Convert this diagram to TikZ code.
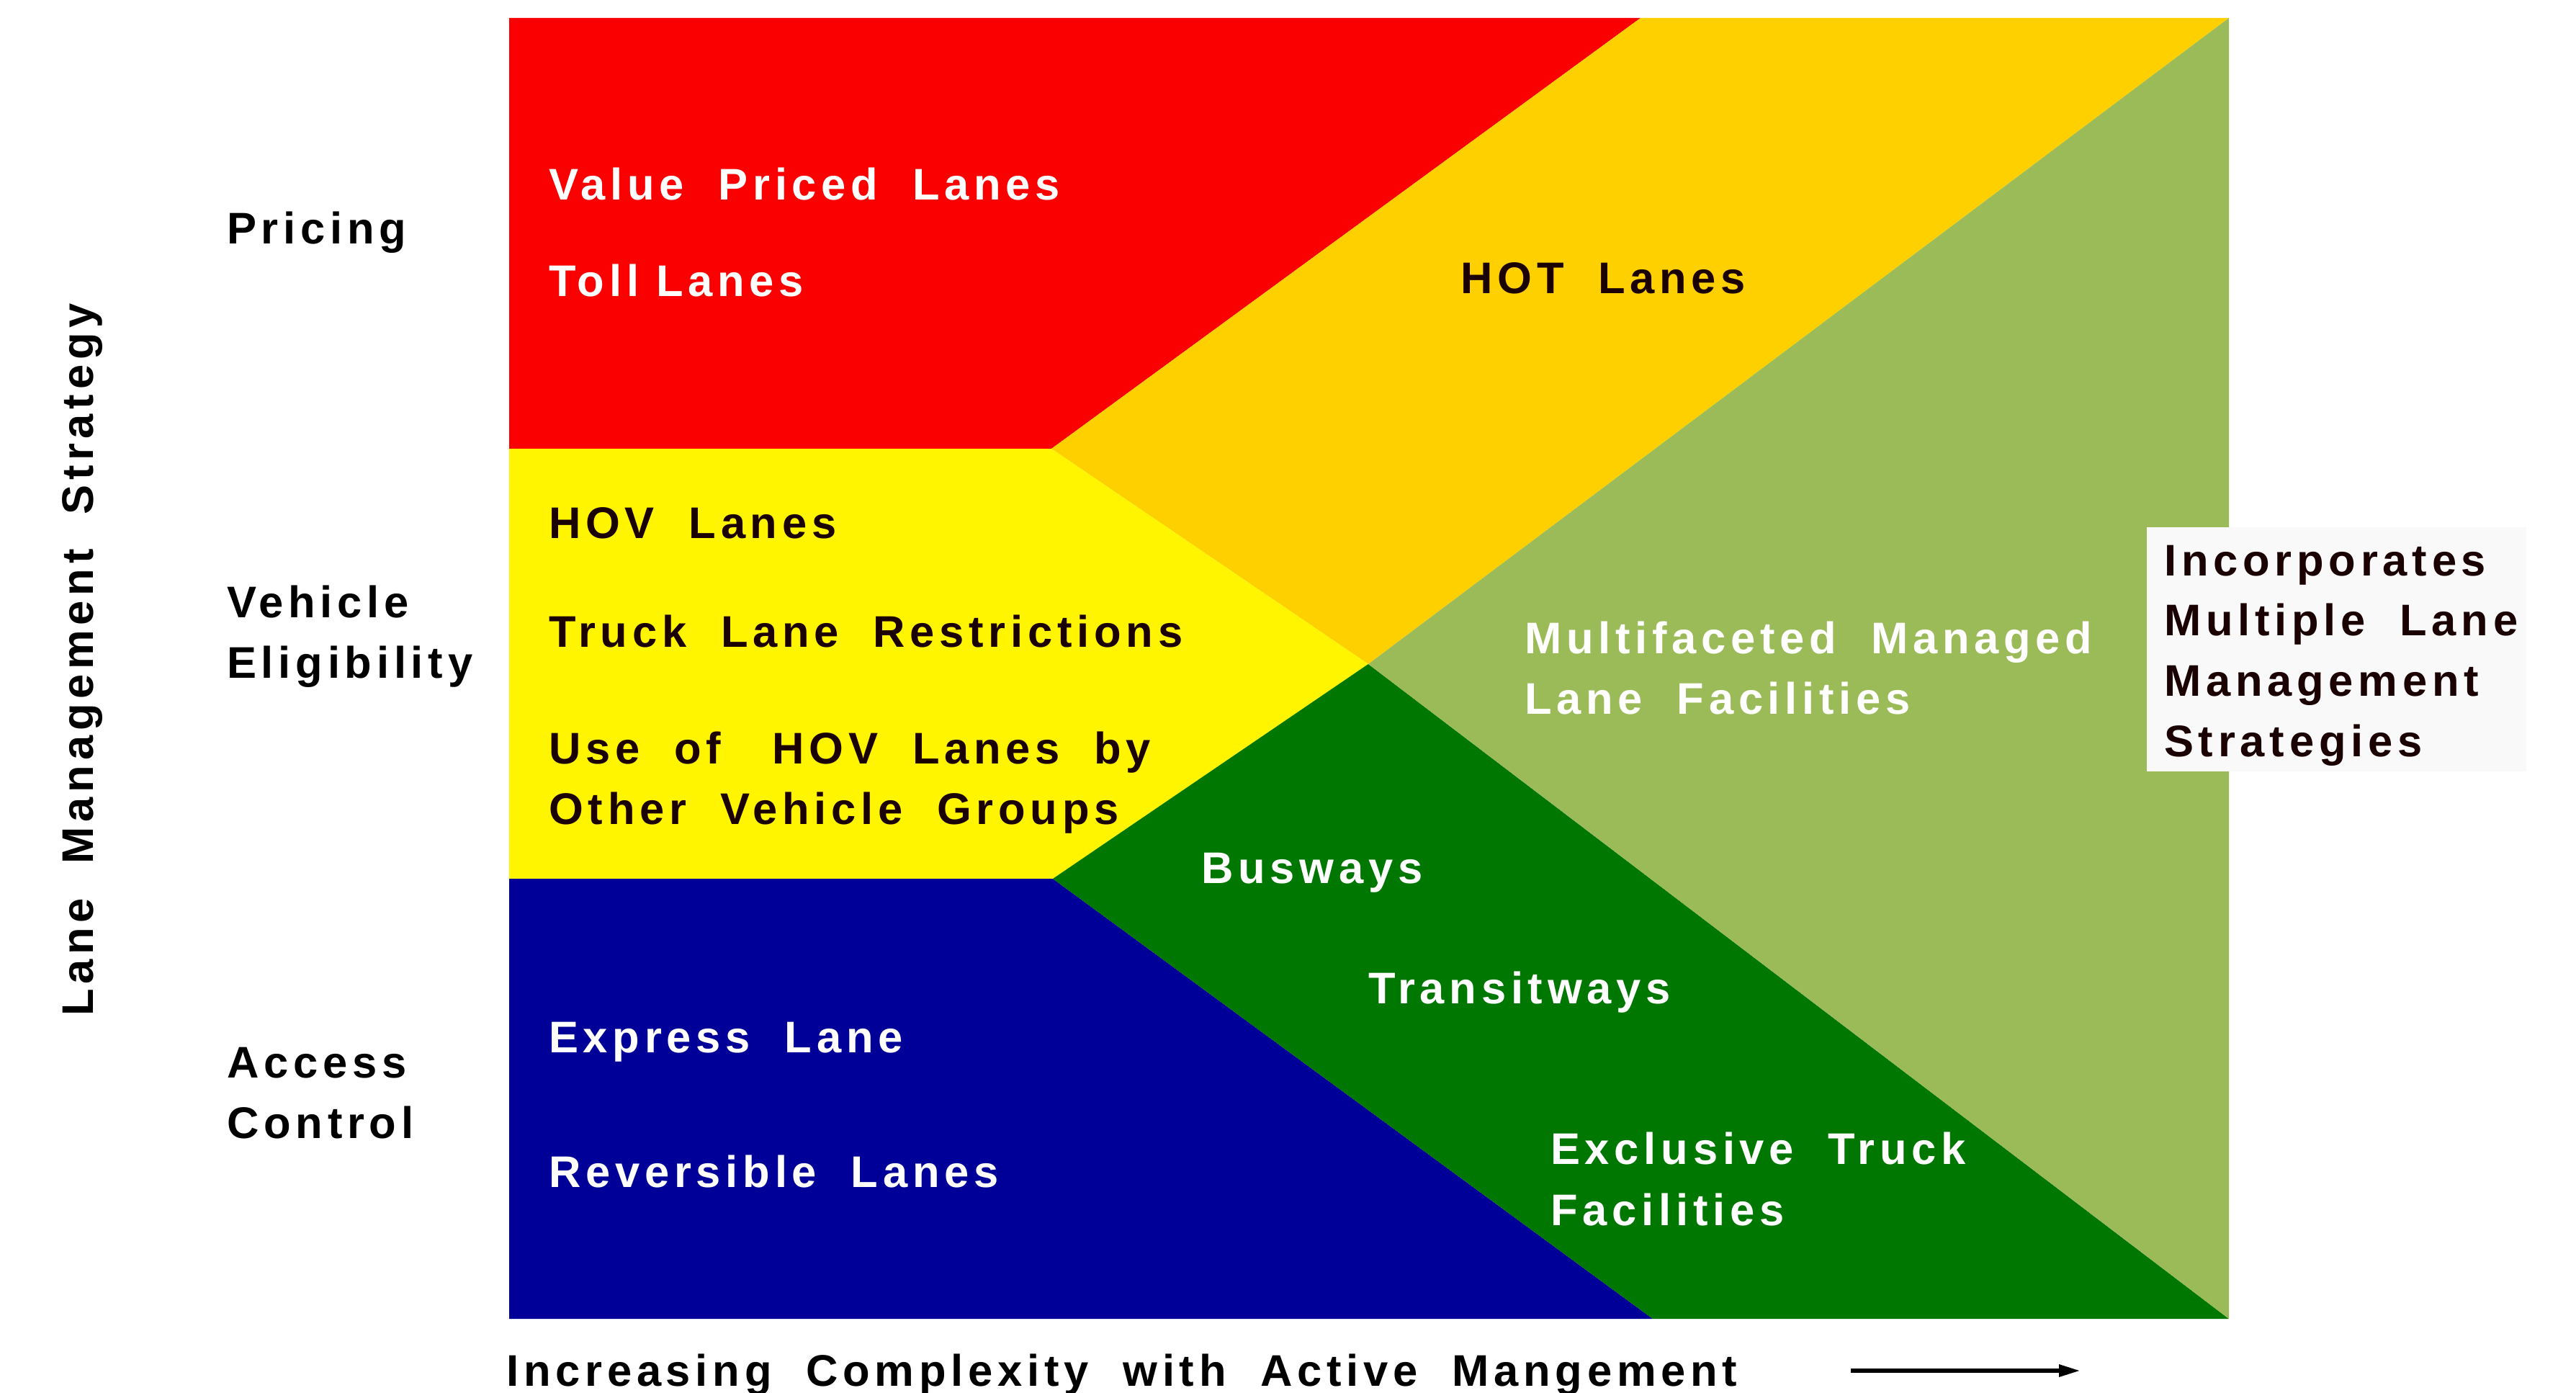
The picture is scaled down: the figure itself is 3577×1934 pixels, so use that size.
\documentclass[tikz,border=0pt]{standalone}
\usepackage{fontspec}
\usetikzlibrary{arrows.meta}
\newfontfamily\lf{Liberation Sans}[LetterSpace=11]
\definecolor{cred}{HTML}{FA0000}
\definecolor{cgold}{HTML}{FFD000}
\definecolor{cyel}{HTML}{FFF500}
\definecolor{cblue}{HTML}{000099}
\definecolor{cdgreen}{HTML}{007700}
\definecolor{clgreen}{HTML}{9BBB59}
\definecolor{dktext}{HTML}{1A0000}
\definecolor{boxbg}{HTML}{F9F9F9}
\begin{document}
\begin{tikzpicture}[x=1pt,y=-1pt,
  lbl/.style={anchor=base west, inner sep=0pt, align=left,
    font=\lf\bfseries\fontsize{61.5}{84}\selectfont},
  wt/.style={lbl, text=white},
  dk/.style={lbl, text=dktext},
  bk/.style={lbl, text=black}]
\useasboundingbox (0,0) rectangle (3577,1934);
% corner and junction coordinates
\coordinate (TL) at (707,25);
\coordinate (TR) at (3095,25);
\coordinate (BL) at (707,1831);
\coordinate (BR) at (3095,1831);
\coordinate (A) at (2278,25);
\coordinate (B) at (1460,623);
\coordinate (Bl) at (707,623);
\coordinate (C) at (1900,922);
\coordinate (D) at (1462,1220);
\coordinate (Dl) at (707,1220);
\coordinate (E) at (2295,1831);
% regions
\fill[cred] (TL) -- (A) -- (B) -- (Bl) -- cycle;
\fill[cgold] (A) -- (TR) -- (C) -- (B) -- cycle;
\fill[cyel] (Bl) -- (B) -- (C) -- (D) -- (Dl) -- cycle;
\fill[cblue] (Dl) -- (D) -- (E) -- (BL) -- cycle;
\fill[cdgreen] (D) -- (C) -- (BR) -- (E) -- cycle;
\fill[clgreen] (C) -- (TR) -- (BR) -- cycle;
% right box
\fill[boxbg] (2981,732) rectangle (3508,1071);
% texts in regions
\node[wt] (vpl) at (762,278) {Value~~Priced~~Lanes};
\node[wt] (tl) at (762,411) {Toll Lanes};
\node[dk] (hot) at (2028,408) {HOT~~Lanes};
\node[dk] (hov) at (762,747) {HOV~~Lanes};
\node[dk] (tlr) at (762,898) {Truck~~Lane~~Restrictions};
\node[dk] (use) at (762,1060) {Use~~of~~~HOV~~Lanes~~by};
\node[dk] (other) at (762,1144) {Other~~Vehicle~~Groups};
\node[wt] (multi) at (2117,907) {Multifaceted~~Managed};
\node[wt] (lf) at (2117,991) {Lane~~Facilities};
\node[wt] (bus) at (1668,1226) {Busways};
\node[wt] (trans) at (1900,1393) {Transitways};
\node[wt] (exp) at (762,1461) {Express~~Lane};
\node[wt] (rev) at (762,1648) {Reversible~~Lanes};
\node[wt] (ext) at (2153,1616) {Exclusive~~Truck};
\node[wt] (fac) at (2153,1701) {Facilities};
% right box text
\node[dk] (inc) at (3005,799) {Incorporates};
\node[dk] (mul) at (3005,882) {Multiple~~Lane};
\node[dk] (man) at (3005,966) {Management};
\node[dk] (str) at (3005,1050) {Strategies};
% left labels
\node[bk] (pr) at (315,339) {Pricing};
\node[bk] (veh) at (315,857) {Vehicle};
\node[bk] (eli) at (315,941) {Eligibility};
\node[bk] (acc) at (315,1496) {Access};
\node[bk] (con) at (315,1580) {Control};
\node[text=black, inner sep=0pt, anchor=base, rotate=90,
  font=\lf\bfseries\fontsize{61.5}{84}\selectfont] (lms) at (129,916) {Lane~~Management~~Strategy};
% bottom axis label and arrow
\node[bk] (inc2) at (703,1924) {Increasing~~Complexity~~with~~Active~~Mangement};
\coordinate (ar1) at (2570,1903);
\coordinate (ar2) at (2889,1903);
\draw[line width=6pt, -{Triangle[length=30pt,width=16pt]}] (ar1) -- (ar2);
\end{tikzpicture}
\end{document}
